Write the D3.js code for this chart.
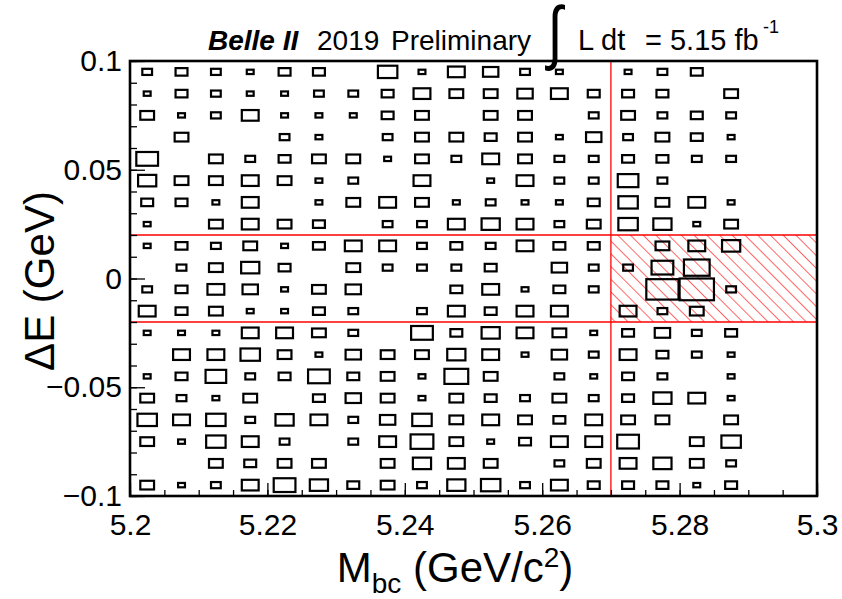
<!DOCTYPE html>
<html><head><meta charset="utf-8">
<script src="https://cdn.jsdelivr.net/npm/d3@7/dist/d3.min.js"></script>
<style>
body{margin:0;background:#fff}
text{font-family:"Liberation Sans",Arial,Helvetica,sans-serif;fill:#000}
</style>
</head><body>
<svg id="chart" width="842" height="599"></svg>
<script>
// ---- data ----
const xBinCenters = [5.2025,5.2075,5.2125,5.2175,5.2225,5.2275,5.2325,5.2375,5.2425,5.2475,
                     5.2525,5.2575,5.2625,5.2675,5.2725,5.2775,5.2825,5.2875,5.2925,5.2975];
const yBinCenters = [0.095,0.085,0.075,0.065,0.055,0.045,0.035,0.025,0.015,0.005,
                     -0.005,-0.015,-0.025,-0.035,-0.045,-0.055,-0.065,-0.075,-0.085,-0.095];
// counts per ΔE row (top to bottom), one value per Mbc bin
const counts = [
  [2,3,2,1,3,3,0, 8,1,6,5,2,1, 0, 1,2,3,0,0,0],
  [1,3,2,1,1,2,2, 3,6,4,4,5,6, 3, 3,3,0,4,0,0],
  [4,1,2,6,1,1,1, 3,4,0,4,4,0, 2, 4,2,3,2,0,0],
  [0,4,0,0,2,1,0, 2,4,4,3,4,1, 5, 2,4,3,1,0,0],
  [10,0,4,2,3,4,4, 1,4,2,6,4,2, 2, 3,3,2,2,0,0],
  [7,4,4,6,4,1,2, 0,6,0,1,6,2, 2, 9,2,0,0,0,0],
  [3,3,1,6,0,1,4, 6,4,1,2,1,1, 3, 8,4,6,1,0,0],
  [1,0,4,6,4,3,0, 2,2,6,7,6,2, 4, 8,7,1,4,0,0],
  [1,3,2,4,1,3,6, 6,2,3,2,6,3, 3, 0,4,6,7,0,0],
  [0,2,4,7,3,0,4, 2,2,2,3,0,5, 2, 2,10,14,0,0,0],
  [2,3,6,5,1,4,5, 0,0,3,6,1,3, 2, 0,22,25,2,0,0],
  [6,3,4,1,1,3,2, 0,2,6,3,6,6, 0, 6,2,4,0,0,0],
  [1,1,1,6,6,4,2, 0,10,3,7,6,4, 1, 3,5,2,3,0,0],
  [0,6,6,8,4,1,5, 4,4,7,6,1,5, 2, 6,3,2,1,0,0],
  [1,3,9,2,3,10,3, 4,1,12,4,0,2, 1, 3,2,0,1,0,0],
  [4,2,1,4,0,3,5, 4,1,4,3,2,4, 2, 3,7,6,1,0,0],
  [8,6,8,2,7,6,2, 5,8,4,6,4,3, 6, 4,4,0,4,0,0],
  [4,1,8,6,2,0,2, 6,11,4,1,3,6, 6, 10,0,4,8,0,0],
  [0,0,4,3,4,4,0, 4,7,6,4,0,2, 4, 6,7,4,2,0,0],
  [4,1,2,6,10,7,3, 4,2,7,8,2,6, 3, 3,3,1,3,0,0]
];
const xTickValues = [5.2,5.22,5.24,5.26,5.28,5.3];
const xTickLabels = ["5.2","5.22","5.24","5.26","5.28","5.3"];
const yTickValues = [-0.1,-0.05,0,0.05,0.1];
const yTickLabels = ["\u22120.1","\u22120.05","0","0.05","0.1"];
const mbcCut = 5.27;
const deCut = [-0.02, 0.02];
const xDomain = [5.2, 5.3];
const yDomain = [-0.1, 0.1];
const binWidthX = 0.005, binWidthY = 0.01;

// ---- layout ----
const L = 130, R = 817, T = 61, B = 496;
const svg = d3.select("#chart");
const x = d3.scaleLinear().domain(xDomain).range([L, R]);
const y = d3.scaleLinear().domain(yDomain).range([B, T]);

// hatch pattern
const defs = svg.append("defs");
const pat = defs.append("pattern").attr("id","hatch").attr("patternUnits","userSpaceOnUse")
  .attr("width",9).attr("height",9).attr("patternTransform","rotate(-45)");
pat.append("line").attr("x1",0).attr("y1",0).attr("x2",0).attr("y2",9)
  .attr("stroke","#ff0000").attr("stroke-width",1.2);

svg.append("rect").attr("x",x(mbcCut)).attr("y",y(deCut[1]))
  .attr("width",x(xDomain[1])-x(mbcCut)).attr("height",y(deCut[0])-y(deCut[1]))
  .attr("fill","url(#hatch)");

// red cut lines
svg.append("line").attr("x1",x(mbcCut)).attr("x2",x(mbcCut)).attr("y1",y(yDomain[1])).attr("y2",y(yDomain[0]))
  .attr("stroke","#ff0000").attr("stroke-width",1.3);
deCut.forEach(v=>{
  svg.append("line").attr("x1",x(xDomain[0])).attr("x2",x(xDomain[1])).attr("y1",y(v)).attr("y2",y(v))
    .attr("stroke","#ff0000").attr("stroke-width",1.3);
});

// boxes
const zmax = d3.max(counts.flat());
const bwPx = x(xDomain[0]+binWidthX)-x(xDomain[0]);
const bhPx = y(yDomain[0])-y(yDomain[0]+binWidthY);
const cells = [];
counts.forEach((row,r)=>row.forEach((n,c)=>{ if(n>0) cells.push({xc:xBinCenters[c], yc:yBinCenters[r], n}); }));
svg.append("g").selectAll("rect").data(cells).join("rect")
  .attr("x",d=>x(d.xc)-bwPx/2*Math.sqrt(d.n/zmax))
  .attr("y",d=>y(d.yc)-bhPx/2*Math.sqrt(d.n/zmax))
  .attr("width",d=>bwPx*Math.sqrt(d.n/zmax))
  .attr("height",d=>bhPx*Math.sqrt(d.n/zmax))
  .attr("fill","none").attr("stroke","#000").attr("stroke-width",2.2);

// axes: inward ticks
const xMinor = d3.range(0,21).map(i=>5.2+i*0.005);
const yMinor = d3.range(0,21).map(i=>-0.1+i*0.01);
const gx = svg.append("g").attr("transform",`translate(0,${B})`);
gx.call(d3.axisBottom(x).tickValues(xMinor).tickSize(-6).tickFormat(""));
const gxM = svg.append("g").attr("transform",`translate(0,${B})`);
gxM.call(d3.axisBottom(x).tickValues(xTickValues).tickSize(-13).tickPadding(18)
  .tickFormat((d,i)=>xTickLabels[i]));
const gy = svg.append("g").attr("transform",`translate(${L},0)`);
gy.call(d3.axisLeft(y).tickValues(yMinor).tickSize(-7).tickFormat(""));
const gyM = svg.append("g").attr("transform",`translate(${L},0)`);
gyM.call(d3.axisLeft(y).tickValues(yTickValues).tickSize(-15).tickPadding(8)
  .tickFormat((d,i)=>yTickLabels[i]));
svg.selectAll(".domain").remove();
svg.selectAll(".tick line").attr("stroke","#000").attr("stroke-width",1.3);
svg.selectAll(".tick text").attr("font-size",30).attr("font-family","Liberation Sans, Arial, sans-serif").attr("fill","#000");

// frame
svg.append("rect").attr("x",L).attr("y",T).attr("width",R-L).attr("height",B-T)
  .attr("fill","none").attr("stroke","#000").attr("stroke-width",2.6);

// axis titles
const xt = svg.append("text").attr("x",455).attr("y",582).attr("text-anchor","middle").attr("font-size",42);
xt.append("tspan").text("M");
xt.append("tspan").attr("font-size",28).attr("dy",11).text("bc");
xt.append("tspan").attr("dy",-11).text(" (GeV/c");
xt.append("tspan").attr("font-size",28).attr("dy",-15).text("2");
xt.append("tspan").attr("dy",15).text(")");

svg.append("text").attr("transform","translate(54,281) rotate(-90)").attr("text-anchor","middle")
  .attr("font-size",42).text("\u0394E (GeV)");

// header
const hy = 50;
svg.append("text").attr("x",208).attr("y",hy).attr("font-size",28).attr("font-weight","bold").attr("font-style","italic").text("Belle II");
svg.append("text").attr("x",317).attr("y",hy).attr("font-size",28).text("2019");
svg.append("text").attr("x",391).attr("y",hy).attr("font-size",28).text("Preliminary");
svg.append("text").attr("x",555).attr("y",56).attr("text-anchor","middle").attr("font-size",54)
  .attr("font-family","DejaVu Sans").attr("transform","translate(555,56) scale(1,1.3) translate(-555,-56)").text("\u222B");
svg.append("text").attr("x",578).attr("y",hy).attr("font-size",29).text("L dt");
svg.append("text").attr("x",645).attr("y",hy).attr("font-size",29).text("= 5.15 fb");
svg.append("text").attr("x",763).attr("y",33).attr("font-size",18).text("-1");
</script>
</body></html>
